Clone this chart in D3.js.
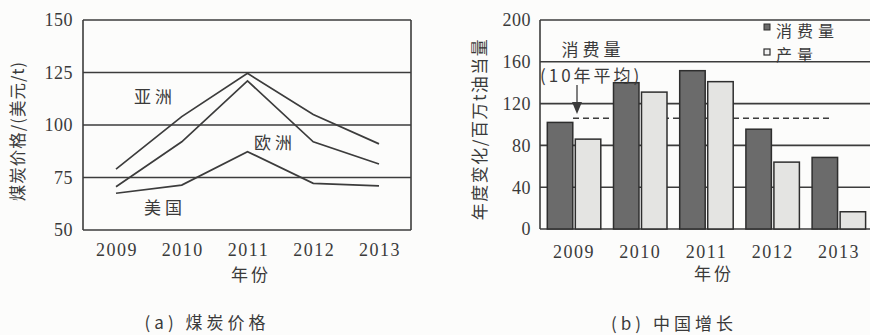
<!DOCTYPE html>
<html lang="zh">
<head>
<meta charset="utf-8">
<title>煤炭价格与中国增长</title>
<script src="https://cdn.jsdelivr.net/npm/d3@7"></script>
<style>
  body { margin: 0; background: #fcfcfb; }
  text { fill: #3a3a3a; }
</style>
</head>
<body>
<script>
// shared years
var years = ["2009", "2010", "2011", "2012", "2013"];

// (a) coal price, USD/t
var asiaPrice   = [79, 104, 124.6, 105, 91];
var europePrice = [70.6, 92, 121, 92, 81.4];
var usPrice     = [67.5, 71.4, 87.3, 72.2, 71];
var priceTicks  = [50, 75, 100, 125, 150];

// (b) China annual change, Mt oil equivalent
var consumption = [102, 140, 151.5, 95.5, 68.5];
var production  = [86, 131, 141, 64, 16.5];
var avgConsumption = 106;
var growthTicks = [0, 40, 80, 120, 160, 200];

var serif = "'Liberation Serif', 'Times New Roman', 'DejaVu Serif', serif";
var cjk = "'Noto Sans CJK SC', 'Noto Sans', sans-serif";
var ink = "#3c3c3c";

var svg = d3.select("body").append("svg")
  .attr("width", 870)
  .attr("height", 335);

// small helper so every label gets the same font setup
function label(g, txt, x, y, font, size, spacing, anchor) {
  return g.append("text")
    .attr("x", x).attr("y", y).attr("dy", "0.35em")
    .attr("text-anchor", anchor || "middle")
    .style("font-family", font)
    .style("font-size", size + "px")
    .style("letter-spacing", spacing + "px")
    .text(txt);
}

// ---------- (a) line chart ----------
var xa = d3.scalePoint().domain(years).range([116, 379]);
var ya = d3.scaleLinear().domain([50, 150]).range([230, 20]);

var ga = svg.append("g");

ga.selectAll("line.grid").data(priceTicks).enter().append("line")
  .attr("x1", 83).attr("x2", 411)
  .attr("y1", function (d) { return ya(d); })
  .attr("y2", function (d) { return ya(d); })
  .attr("stroke", ink).attr("stroke-width", 1.6);
ga.append("line").attr("x1", 83).attr("x2", 83).attr("y1", ya(150)).attr("y2", ya(50))
  .attr("stroke", ink).attr("stroke-width", 1.6);
ga.append("line").attr("x1", 411).attr("x2", 411).attr("y1", ya(150)).attr("y2", ya(50))
  .attr("stroke", ink).attr("stroke-width", 1.6);

priceTicks.forEach(function (d) {
  label(ga, d, 73, ya(d), serif, 18, 0.5, "end");
});
years.forEach(function (d) {
  label(ga, d, xa(d) + 1, 250, serif, 18, 1.5);
});

var line = d3.line()
  .x(function (d, i) { return xa(years[i]); })
  .y(function (d) { return ya(d); });

[asiaPrice, europePrice, usPrice].forEach(function (s) {
  ga.append("path").datum(s)
    .attr("d", line)
    .attr("fill", "none")
    .attr("stroke", ink)
    .attr("stroke-width", 1.7);
});

label(ga, "亚洲", 155, 97, cjk, 17, 4);
label(ga, "欧洲", 275, 143, cjk, 17, 4);
label(ga, "美国", 165, 208, cjk, 17, 4);

label(ga, "煤炭价格/(美元/t)", 0, 0, cjk, 16.5, 1)
  .attr("x", null).attr("y", null)
  .attr("transform", "translate(18,131) rotate(-90)");

label(ga, "年份", 251, 275, cjk, 17, 3);
label(ga, "(a) 煤炭价格", 207, 323, cjk, 17, 4);

// ---------- (b) grouped bars ----------
var xb = d3.scaleBand().domain(years).range([541, 872]);
var xs = d3.scaleBand().domain(["cons", "prod"]).range([6.3, 59.8]).paddingInner(0.09);
var yb = d3.scaleLinear().domain([0, 200]).range([229, 20]);

var gb = svg.append("g");

gb.selectAll("line.grid").data(growthTicks).enter().append("line")
  .attr("x1", 540).attr("x2", 870)
  .attr("y1", function (d) { return yb(d); })
  .attr("y2", function (d) { return yb(d); })
  .attr("stroke", ink).attr("stroke-width", 1.6);
gb.append("line").attr("x1", 540).attr("x2", 540).attr("y1", yb(200)).attr("y2", yb(0))
  .attr("stroke", ink).attr("stroke-width", 1.6);

growthTicks.forEach(function (d) {
  label(gb, d, 531, yb(d), serif, 18, 0.5, "end");
});
years.forEach(function (d) {
  label(gb, d, xb(d) + xb.bandwidth() / 2, 252, serif, 18, 1.5);
});

// 10-year average, drawn under the bars
gb.append("line")
  .attr("x1", 573).attr("x2", 833)
  .attr("y1", yb(avgConsumption)).attr("y2", yb(avgConsumption))
  .attr("stroke", ink).attr("stroke-width", 1.5)
  .attr("stroke-dasharray", "6,4");

var groups = gb.selectAll("g.yr").data(years).enter().append("g")
  .attr("transform", function (d) { return "translate(" + xb(d) + ",0)"; });

groups.append("rect")
  .attr("x", xs("cons")).attr("width", xs.bandwidth())
  .attr("y", function (d, i) { return yb(consumption[i]); })
  .attr("height", function (d, i) { return yb(0) - yb(consumption[i]); })
  .attr("fill", "#6b6b6b").attr("stroke", "#2e2e2e").attr("stroke-width", 1.5);

groups.append("rect")
  .attr("x", xs("prod")).attr("width", xs.bandwidth())
  .attr("y", function (d, i) { return yb(production[i]); })
  .attr("height", function (d, i) { return yb(0) - yb(production[i]); })
  .attr("fill", "#e4e4e2").attr("stroke", "#2e2e2e").attr("stroke-width", 1.5);

// annotation arrow
gb.append("line").attr("x1", 577).attr("x2", 577).attr("y1", 85).attr("y2", 104)
  .attr("stroke", ink).attr("stroke-width", 1.3);
gb.append("path").attr("d", "M572,102 L582,102 L577,114 Z").attr("fill", ink);

label(gb, "消费量", 593, 50, cjk, 17, 4);
label(gb, "(10年平均)", 540, 76, cjk, 17, 3, "start");

// legend
gb.append("rect").attr("x", 764).attr("y", 24).attr("width", 6).attr("height", 6)
  .attr("fill", "#6b6b6b").attr("stroke", "#2e2e2e").attr("stroke-width", 1);
gb.append("rect").attr("x", 764).attr("y", 49).attr("width", 6).attr("height", 6)
  .attr("fill", "#f2f2f2").attr("stroke", "#2e2e2e").attr("stroke-width", 1.2);
label(gb, "消费量", 776, 31, cjk, 16, 5, "start");
label(gb, "产量", 776, 55, cjk, 16, 5, "start");

label(gb, "年度变化/百万t油当量", 0, 0, cjk, 17, 1.5)
  .attr("x", null).attr("y", null)
  .attr("transform", "translate(480,129) rotate(-90)");

label(gb, "年份", 714, 274, cjk, 17, 3);
label(gb, "(b) 中国增长", 674, 324, cjk, 17, 4);
</script>
</body>
</html>
